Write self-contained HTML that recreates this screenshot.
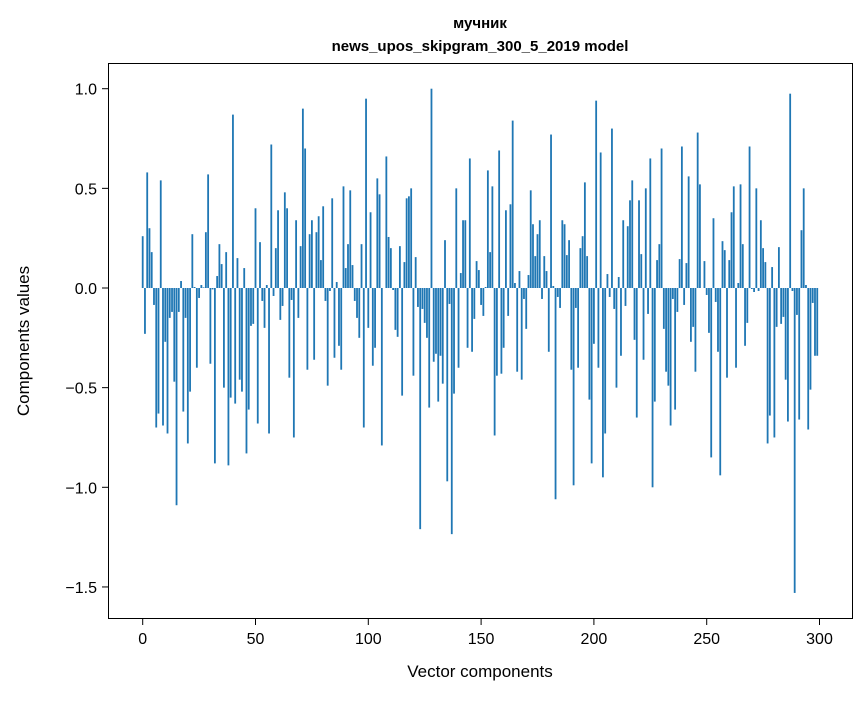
<!DOCTYPE html>
<html><head><meta charset="utf-8"><style>
body{margin:0;background:#fff;font-family:"Liberation Sans","DejaVu Sans",sans-serif}
svg text{font-family:"Liberation Sans","DejaVu Sans",sans-serif}
</style></head><body>
<svg id="chart" width="867" height="696">
<rect width="867" height="696" fill="#fff"/>
<text x="480" y="28" text-anchor="middle" font-size="15" font-weight="bold">мучник</text>
<text x="480" y="51" text-anchor="middle" font-size="15" font-weight="bold">news_upos_skipgram_300_5_2019 model</text>
<g id="bars"></g>
<g id="xaxis"></g>
<g id="yaxis"></g>
<rect x="108.5" y="63.5" width="744" height="555" fill="none" stroke="#000" stroke-width="1"/>
<text x="480" y="677" text-anchor="middle" font-size="17">Vector components</text>
<text transform="translate(29,341) rotate(-90)" text-anchor="middle" font-size="17">Components values</text>
</svg>
<script>
const values = [0.26,-0.23,0.58,0.30,0.18,-0.085,-0.70,-0.63,0.54,-0.69,-0.27,-0.73,-0.15,-0.12,-0.47,-1.09,-0.12,0.035,-0.62,-0.15,-0.78,-0.52,0.27,0.005,-0.40,-0.05,0.015,0.003,0.28,0.57,-0.38,-0.007,-0.88,0.06,0.22,0.12,-0.50,0.18,-0.89,-0.55,0.87,-0.58,0.15,-0.46,-0.52,0.10,-0.83,-0.61,-0.19,-0.18,
0.40,-0.68,0.23,-0.065,-0.20,0.015,-0.73,0.72,-0.04,0.20,0.39,-0.16,-0.09,0.48,0.40,-0.45,-0.06,-0.75,0.34,-0.15,0.21,0.90,0.70,-0.41,0.27,0.34,-0.36,0.28,0.36,0.14,0.41,-0.065,-0.49,-0.015,0.45,-0.35,0.03,-0.29,-0.41,0.51,0.10,0.22,0.49,0.115,-0.065,-0.15,-0.25,0.22,-0.70,0.95,
-0.20,0.38,-0.39,-0.30,0.55,0.47,-0.79,0.0,0.66,0.256,0.20,-0.01,-0.21,-0.245,0.21,-0.54,0.13,0.45,0.46,0.50,-0.44,0.155,-0.095,-1.21,-0.105,-0.175,-0.25,-0.60,1.00,-0.37,-0.33,-0.57,-0.34,-0.48,0.24,-0.97,-0.08,-1.235,-0.53,0.50,-0.40,0.075,0.34,0.34,-0.30,0.65,-0.32,-0.155,0.135,0.09,
-0.085,-0.14,0.005,0.59,0.18,0.51,-0.74,-0.44,0.69,-0.43,-0.30,0.39,-0.14,0.42,0.84,0.025,-0.42,0.085,-0.46,-0.055,-0.205,0.065,0.49,0.32,0.16,0.27,0.34,-0.055,0.16,0.085,-0.32,0.77,0.01,-1.06,-0.045,-0.10,0.34,0.32,0.165,0.24,-0.41,-0.99,-0.10,-0.40,0.20,0.26,0.53,0.16,-0.56,-0.88,
-0.28,0.94,-0.40,0.68,-0.95,-0.73,0.07,-0.045,0.80,-0.105,-0.50,0.055,-0.34,0.34,-0.09,0.31,0.44,0.54,-0.26,-0.65,0.44,0.17,-0.36,0.50,-0.13,0.65,-1.00,-0.57,0.14,0.22,0.70,-0.205,-0.42,-0.49,-0.69,-0.055,-0.61,-0.12,0.145,0.71,-0.085,0.125,0.56,-0.27,-0.195,-0.42,0.78,0.52,0.0,0.135,
-0.035,-0.225,-0.85,0.35,-0.07,-0.32,-0.94,0.235,0.19,-0.45,0.14,0.38,0.51,-0.40,0.025,0.52,0.22,-0.29,-0.175,0.71,-0.005,-0.02,0.50,-0.015,0.34,0.20,0.13,-0.78,-0.64,0.105,-0.75,-0.195,0.205,-0.18,-0.145,-0.46,-0.67,0.975,-0.015,-1.53,-0.135,-0.66,0.29,0.50,0.015,-0.71,-0.51,-0.075,-0.34,-0.34];
const xTicks = [0,50,100,150,200,250,300];
const yTicks = [1.0,0.5,0.0,-0.5,-1.0,-1.5];
const yTickLabels = ["1.0","0.5","0.0","\u22120.5","\u22121.0","\u22121.5"];

const NS="http://www.w3.org/2000/svg";
const X0=142.7, XS=2.256, Y0=288, YS=199.3;
function xs(v){return X0+v*XS;}
function ys(v){return Y0-v*YS;}
const bars=document.getElementById('bars');
values.forEach((v,i)=>{
  const r=document.createElementNS(NS,'rect');
  const w=0.8*XS;
  r.setAttribute('x',xs(i)-w/2);
  r.setAttribute('width',w);
  r.setAttribute('y',Math.min(ys(v),ys(0)));
  r.setAttribute('height',Math.abs(ys(v)-ys(0)));
  r.setAttribute('fill','#1f77b4');
  
  
  bars.appendChild(r);
});
const xa=document.getElementById('xaxis');
xTicks.forEach(t=>{
  const l=document.createElementNS(NS,'line');
  l.setAttribute('x1',xs(t));l.setAttribute('x2',xs(t));
  l.setAttribute('y1',619);l.setAttribute('y2',625);
  l.setAttribute('stroke','#000');
  
  
  xa.appendChild(l);
  const tx=document.createElementNS(NS,'text');
  tx.setAttribute('x',xs(t));tx.setAttribute('y',644);
  tx.setAttribute('text-anchor','middle');tx.setAttribute('font-size','16');
  tx.textContent=String(t);
  
  
  xa.appendChild(tx);
});
const ya=document.getElementById('yaxis');
yTicks.forEach((t,k)=>{
  const l=document.createElementNS(NS,'line');
  l.setAttribute('x1',102);l.setAttribute('x2',108);
  l.setAttribute('y1',ys(t));l.setAttribute('y2',ys(t));
  l.setAttribute('stroke','#000');
  
  
  ya.appendChild(l);
  const tx=document.createElementNS(NS,'text');
  tx.setAttribute('x',97);tx.setAttribute('y',ys(t)+6);
  tx.setAttribute('text-anchor','end');tx.setAttribute('font-size','16');
  tx.textContent=yTickLabels[k];
  
  
  ya.appendChild(tx);
});
</script>
</body></html>
